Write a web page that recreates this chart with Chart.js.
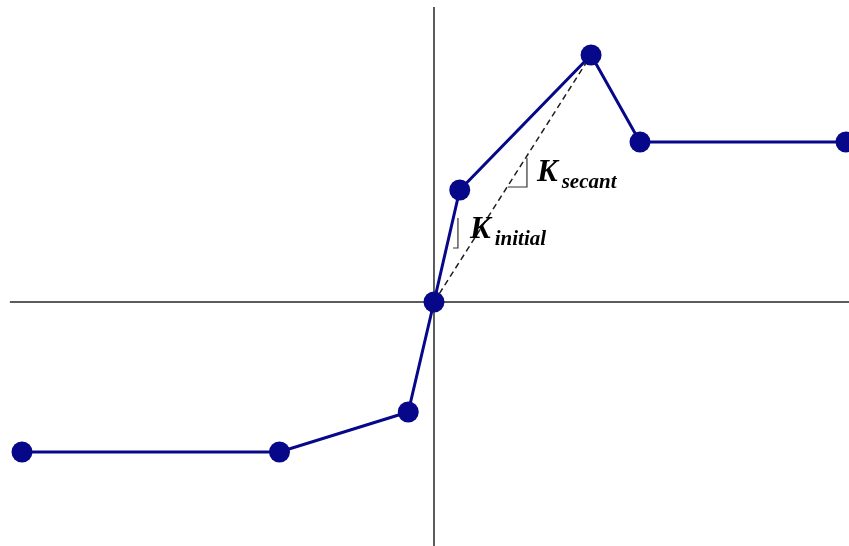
<!DOCTYPE html>
<html>
<head>
<meta charset="utf-8">
<title>Stiffness – initial vs secant</title>
<script src="https://cdn.jsdelivr.net/npm/chart.js@4/dist/chart.umd.min.js"></script>
<style>
  html, body { margin: 0; padding: 0; background: #ffffff; }
  #wrap { width: 849px; height: 546px; }
</style>
</head>
<body>
<div id="wrap"><canvas id="curve" width="849" height="546"></canvas></div>
<script>
// backbone curve (displacement, force)
const dispX = [-16, -6, -1, 0, 1, 6.1, 8, 16];
const forceY = [-15, -15, -11, 0, 11.2, 24.7, 16, 16];

// secant runs from the origin to the peak point
const peakIndex = 5;

// visible window of the plot
const xRange = [-16.854, 16.117];
const yRange = [-24.4, 30.2];

// axis line extents
const xAxisSpan = [-16.47, 16.117];
const yAxisSpan = [-24.4, 29.5];

// small slope triangles: [x, y] corners
const triInitial = [[0.74, 5.4], [0.93, 5.4], [0.93, 8.4]];
const triSecant = [[2.87, 11.5], [3.61, 11.5], [3.61, 14.4]];

// stiffness labels: anchor (data), main letter, subscript
const labels = [
  { x: 1.40, y: 6.4, main: 'K', sub: 'initial' },
  { x: 4.00, y: 12.1, main: 'K', sub: 'secant' }
];

const toPts = (xs, ys) => xs.map((x, i) => ({ x: x, y: ys[i] }));
const cornerPts = arr => arr.map(p => ({ x: p[0], y: p[1] }));

const navy = '#07078a';

const labelPlugin = {
  id: 'stiffLabels',
  afterDatasetsDraw(chart) {
    const ctx = chart.ctx;
    const sx = chart.scales.x, sy = chart.scales.y;
    ctx.save();
    ctx.fillStyle = '#000000';
    ctx.textBaseline = 'alphabetic';
    labels.forEach(l => {
      const px = sx.getPixelForValue(l.x);
      const py = sy.getPixelForValue(l.y);
      ctx.font = 'italic bold 31px "Liberation Serif", "Times New Roman", serif';
      ctx.fillText(l.main, px, py);
      const w = ctx.measureText(l.main).width;
      ctx.font = 'italic bold 21px "Liberation Serif", "Times New Roman", serif';
      ctx.fillText(l.sub, px + w + 4, py + 7);
    });
    ctx.restore();
  }
};

new Chart(document.getElementById('curve'), {
  type: 'scatter',
  data: {
    datasets: [
      {
        // horizontal axis
        data: [{ x: xAxisSpan[0], y: 0 }, { x: xAxisSpan[1], y: 0 }],
        showLine: true, borderColor: '#262626', borderWidth: 1.5,
        pointRadius: 0, order: 5
      },
      {
        // vertical axis
        data: [{ x: 0, y: yAxisSpan[0] }, { x: 0, y: yAxisSpan[1] }],
        showLine: true, borderColor: '#262626', borderWidth: 1.5,
        pointRadius: 0, order: 5
      },
      {
        // secant stiffness
        data: [{ x: 0, y: 0 }, { x: dispX[peakIndex], y: forceY[peakIndex] }],
        showLine: true, borderColor: '#1e1e1e', borderWidth: 1.5,
        borderDash: [6, 4], pointRadius: 0, order: 4
      },
      {
        data: cornerPts(triInitial),
        showLine: true, borderColor: '#333333', borderWidth: 1.2,
        pointRadius: 0, order: 4
      },
      {
        data: cornerPts(triSecant),
        showLine: true, borderColor: '#333333', borderWidth: 1.2,
        pointRadius: 0, order: 4
      },
      {
        // backbone curve
        data: toPts(dispX, forceY),
        showLine: true, borderColor: navy, borderWidth: 3,
        pointRadius: 10.5, pointBackgroundColor: navy, pointBorderColor: navy,
        pointBorderWidth: 0, clip: false, order: 1
      }
    ]
  },
  options: {
    responsive: false,
    animation: false,
    devicePixelRatio: 1,
    layout: { padding: 0, autoPadding: false },
    plugins: { legend: { display: false }, tooltip: { enabled: false } },
    scales: {
      x: { type: 'linear', min: xRange[0], max: xRange[1], display: false },
      y: { type: 'linear', min: yRange[0], max: yRange[1], display: false }
    }
  },
  plugins: [labelPlugin]
});
</script>
</body>
</html>
